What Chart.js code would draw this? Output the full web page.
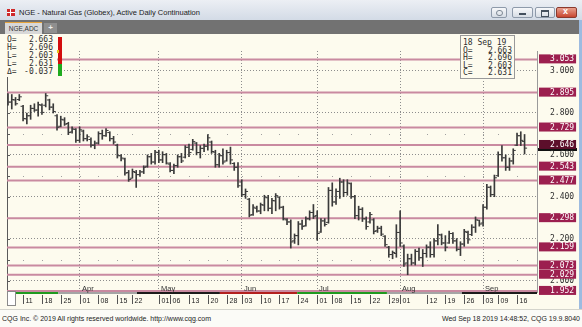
<!DOCTYPE html>
<html>
<head>
<meta charset="utf-8">
<title>NGE - Natural Gas (Globex), Active Daily Continuation</title>
<script src="https://cdn.jsdelivr.net/npm/chart.js@4.4.1/dist/chart.umd.min.js"></script>
<style>
html, body { margin: 0; padding: 0; }
body { position: relative; width: 582px; height: 327px; overflow: hidden; background: #f8f8f3; font-family: "Liberation Sans", Arial, sans-serif; }
#titlebar { position: absolute; left: 0; top: 0; width: 582px; height: 20px; background: linear-gradient(#eceff4, #d3dbe6); }
#titlebar .icon { position: absolute; left: 7px; top: 9px; width: 8px; height: 7px;
  background: linear-gradient(90deg, transparent 3px, #fff 3px, #fff 4px, transparent 4px),
              linear-gradient(transparent 3px, #fff 3px, #fff 4px, transparent 4px), #cf2a2a; }
#titlebar .ttl { position: absolute; left: 19px; top: 8px; font-size: 7.5px; line-height: 10px; color: #1b1b1b; white-space: nowrap; }
.btn { position: absolute; top: 7px; height: 9px; border: 1px solid #8e9aaa; border-radius: 2px; background: linear-gradient(#f7f8fa, #d7dde5); }
.btn.key { left: 491px; width: 14px; }
.btn.min { left: 512px; width: 19px; }
.btn.max { left: 535px; width: 18px; }
.btn.close { left: 556px; width: 19px; border-color: #8a3a2e; background: linear-gradient(#e9a08e, #c8462f); }
.btn.min::after { content: ""; position: absolute; left: 6px; top: 5px; width: 7px; height: 2px; background: #44505e; }
.btn.max::after { content: ""; position: absolute; left: 5px; top: 2px; width: 6px; height: 4px; border: 1px solid #44505e; border-top-width: 2px; }
.btn.close::after { content: "x"; position: absolute; left: 6px; top: -2px; font: bold 9px "Liberation Sans"; color: #fff; }
.btn.key::after { content: ""; position: absolute; left: 4px; top: 2px; width: 5px; height: 4px; border: 1px solid #7c8794; border-radius: 3px; }
#tabs { position: absolute; left: 0; top: 20px; width: 582px; height: 14px; background: #727272; }
#tabs .tab { position: absolute; left: 5px; top: 2px; width: 37px; height: 12px; background: #d8d8d8; border-top: 1px solid #e7a33a;
  font-size: 6.5px; line-height: 11px; color: #333; text-align: center; }
#tabs .plus { position: absolute; left: 44px; top: 3px; width: 13px; height: 10px; background: #8f8f8f; color: #eee; font: bold 8px "Liberation Sans"; line-height: 10px; text-align: center; }
#chart { position: absolute; left: 0; top: 34px; background: #fdfbee; }
.mono { font-family: "DejaVu Sans Mono", monospace; font-size: 8px; color: #2f2f2f; }
#ohlc { position: absolute; left: 7px; top: 36px; width: 46px; height: 41px; }
#ohlc div, #cursor div { display: flex; justify-content: space-between; white-space: pre; }
#ohlc div { height: 8.1px; line-height: 8.1px; }
#ohlcpad { position: absolute; left: 0; top: 35px; width: 57px; height: 42px; background: #fdfbee; }
#range { position: absolute; left: 58px; top: 37px; width: 4px; height: 39px; }
#range .red { position: absolute; left: 0; top: 0; width: 4px; height: 27px; background: #d30d0d; }
#range .green { position: absolute; left: 0; top: 27px; width: 4px; height: 12px; background: #1faa1f; }
#range .mark { position: absolute; left: -1px; top: 13px; width: 2px; height: 3px; background: #e6c21a; }
#cursor { position: absolute; left: 460px; top: 35px; width: 49px; height: 39px; padding: 3px 2px 0 2px; border: 1px solid #999; background: #fdfbee; }
#cursor div { height: 7.5px; line-height: 7.5px; }
#footer { position: absolute; left: 0; top: 309px; width: 582px; height: 18px; background: #fbfbf7; border-top: 1px solid #d4d4cc; font-size: 7px; color: #222; }
#footer .l { position: absolute; left: 2px; top: 5px; }
#footer .r { position: absolute; right: 2px; top: 5px; }
#frame { position: absolute; left: 579px; top: 20px; width: 3px; height: 289px; background: #9dbbe0; }
b { font-weight: normal; }
</style>
</head>
<body>
<div id="titlebar">
  <span class="icon"></span>
  <span class="ttl">NGE - Natural Gas (Globex), Active Daily Continuation</span>
  <div class="btn key"></div><div class="btn min"></div><div class="btn max"></div><div class="btn close"></div>
</div>
<div id="tabs"><div class="tab">NGE,ADC</div><div class="plus">+</div></div>
<canvas id="chart" width="582" height="275"></canvas>
<div id="ohlcpad"></div>
<div id="ohlc" class="mono"></div>
<div id="range"><div class="red"></div><div class="green"></div><div class="mark"></div></div>
<div id="cursor" class="mono"></div>
<div id="footer">
  <span class="l">CQG Inc. © 2019 All rights reserved worldwide. http://www.cqg.com</span>
  <span class="r">Wed Sep 18 2019 14:48:52, CQG 19.9.8040</span>
</div>
<div id="frame"></div>
<script>
// Daily bars, NGE active continuation, 5 Mar 2019 .. 18 Sep 2019 (138 sessions).
const opens = [
    2.870, 2.850, 2.860, 2.862, 2.830, 2.770, 2.785, 2.820, 2.812, 2.835,
    2.835, 2.860, 2.826, 2.785, 2.735, 2.765, 2.748, 2.708, 2.720, 2.668,
    2.712, 2.676, 2.672, 2.645, 2.655, 2.700, 2.690, 2.705, 2.676, 2.645,
    2.595, 2.580, 2.515, 2.488, 2.515, 2.505, 2.518, 2.545, 2.590, 2.565,
    2.610, 2.575, 2.600, 2.555, 2.525, 2.548, 2.590, 2.588, 2.635, 2.625,
    2.655, 2.610, 2.630, 2.640, 2.660, 2.612, 2.552, 2.595, 2.570, 2.610,
    2.558, 2.540, 2.470, 2.410, 2.388, 2.315, 2.345, 2.332, 2.360, 2.395,
    2.345, 2.380, 2.398, 2.350, 2.290, 2.280, 2.190, 2.215, 2.270, 2.262,
    2.295, 2.325, 2.310, 2.232, 2.285, 2.278, 2.430, 2.375, 2.425, 2.470,
    2.420, 2.462, 2.400, 2.310, 2.340, 2.295, 2.280, 2.290, 2.238, 2.250,
    2.212, 2.160, 2.125, 2.130, 2.230, 2.165, 2.085, 2.105, 2.085, 2.140,
    2.110, 2.130, 2.160, 2.125, 2.190, 2.218, 2.180, 2.180, 2.225, 2.190,
    2.150, 2.175, 2.230, 2.220, 2.255, 2.288, 2.275, 2.350, 2.445, 2.410,
    2.500, 2.600, 2.585, 2.540, 2.570, 2.645, 2.690, 2.663
];
const highs = [
    2.891, 2.886, 2.872, 2.886, 2.835, 2.798, 2.835, 2.842, 2.850, 2.842,
    2.891, 2.864, 2.842, 2.791, 2.783, 2.776, 2.754, 2.732, 2.724, 2.732,
    2.717, 2.695, 2.680, 2.665, 2.709, 2.717, 2.724, 2.709, 2.687, 2.650,
    2.600, 2.584, 2.525, 2.532, 2.525, 2.525, 2.547, 2.599, 2.606, 2.621,
    2.621, 2.614, 2.606, 2.562, 2.555, 2.599, 2.606, 2.643, 2.650, 2.673,
    2.658, 2.643, 2.650, 2.695, 2.665, 2.621, 2.606, 2.628, 2.621, 2.636,
    2.562, 2.562, 2.481, 2.437, 2.392, 2.363, 2.355, 2.370, 2.407, 2.407,
    2.392, 2.415, 2.400, 2.355, 2.296, 2.290, 2.223, 2.282, 2.289, 2.304,
    2.333, 2.363, 2.333, 2.296, 2.296, 2.444, 2.466, 2.437, 2.488, 2.481,
    2.481, 2.466, 2.407, 2.355, 2.348, 2.304, 2.326, 2.296, 2.260, 2.260,
    2.215, 2.164, 2.142, 2.267, 2.333, 2.171, 2.127, 2.127, 2.149, 2.156,
    2.149, 2.171, 2.186, 2.201, 2.267, 2.223, 2.215, 2.237, 2.230, 2.201,
    2.186, 2.245, 2.237, 2.267, 2.304, 2.289, 2.363, 2.459, 2.451, 2.503,
    2.614, 2.643, 2.599, 2.584, 2.628, 2.702, 2.709, 2.696
];
const lows = [
    2.835, 2.817, 2.835, 2.857, 2.761, 2.746, 2.768, 2.805, 2.783, 2.791,
    2.827, 2.813, 2.798, 2.717, 2.732, 2.739, 2.695, 2.702, 2.658, 2.658,
    2.665, 2.665, 2.636, 2.628, 2.650, 2.673, 2.687, 2.665, 2.650, 2.584,
    2.570, 2.503, 2.473, 2.488, 2.444, 2.496, 2.510, 2.540, 2.555, 2.555,
    2.562, 2.562, 2.555, 2.518, 2.510, 2.540, 2.562, 2.584, 2.591, 2.621,
    2.599, 2.584, 2.614, 2.621, 2.606, 2.540, 2.540, 2.555, 2.569, 2.555,
    2.525, 2.444, 2.400, 2.392, 2.304, 2.311, 2.326, 2.319, 2.333, 2.333,
    2.319, 2.333, 2.341, 2.289, 2.267, 2.156, 2.178, 2.171, 2.245, 2.260,
    2.289, 2.296, 2.193, 2.230, 2.260, 2.274, 2.355, 2.363, 2.392, 2.400,
    2.407, 2.392, 2.296, 2.289, 2.282, 2.245, 2.274, 2.223, 2.230, 2.215,
    2.164, 2.112, 2.105, 2.112, 2.164, 2.068, 2.029, 2.075, 2.075, 2.097,
    2.068, 2.112, 2.112, 2.112, 2.171, 2.171, 2.142, 2.178, 2.178, 2.142,
    2.120, 2.164, 2.178, 2.215, 2.230, 2.260, 2.260, 2.341, 2.400, 2.400,
    2.496, 2.569, 2.525, 2.525, 2.555, 2.643, 2.643, 2.603
];
const closes = [
    2.850, 2.862, 2.842, 2.875, 2.772, 2.785, 2.820, 2.812, 2.838, 2.801,
    2.880, 2.826, 2.805, 2.730, 2.768, 2.745, 2.705, 2.722, 2.668, 2.718,
    2.676, 2.685, 2.645, 2.655, 2.700, 2.690, 2.715, 2.676, 2.660, 2.595,
    2.584, 2.512, 2.482, 2.520, 2.505, 2.518, 2.540, 2.590, 2.565, 2.612,
    2.575, 2.600, 2.560, 2.525, 2.548, 2.590, 2.570, 2.635, 2.610, 2.662,
    2.610, 2.630, 2.640, 2.680, 2.615, 2.552, 2.595, 2.565, 2.610, 2.575,
    2.540, 2.452, 2.410, 2.425, 2.312, 2.350, 2.332, 2.362, 2.398, 2.345,
    2.382, 2.405, 2.350, 2.295, 2.280, 2.185, 2.215, 2.270, 2.258, 2.295,
    2.325, 2.305, 2.225, 2.285, 2.268, 2.430, 2.375, 2.425, 2.470, 2.420,
    2.465, 2.400, 2.310, 2.340, 2.295, 2.258, 2.315, 2.235, 2.250, 2.222,
    2.172, 2.125, 2.135, 2.230, 2.180, 2.080, 2.105, 2.085, 2.140, 2.110,
    2.130, 2.160, 2.125, 2.190, 2.220, 2.180, 2.160, 2.225, 2.190, 2.150,
    2.175, 2.235, 2.195, 2.255, 2.290, 2.270, 2.350, 2.445, 2.410, 2.490,
    2.600, 2.585, 2.540, 2.570, 2.620, 2.690, 2.668, 2.631
];

// Horizontal study lines, and the round prices of the axis.
const levelLines = [3.053, 2.895, 2.729, 2.646, 2.543, 2.477, 2.298, 2.159, 2.073, 2.029, 1.952];
const priceTicks = [3.0, 2.8, 2.6, 2.4, 2.2, 2.0];
const tenthRows = [3.0, 2.9, 2.8, 2.7, 2.6, 2.5, 2.4, 2.3, 2.2, 2.1, 2.0];
const minorRows = [2.9, 2.7, 2.5, 2.3, 2.1];

// Session index of each labelled week start, and of each month start.
const weekTicks = [
    [4, '11'], [9, '18'], [14, '25'], [19, '01'], [24, '08'], [29, '15'], [33, '22'],
    [40, '01'], [43, '06'], [48, '13'], [53, '20'], [58, '28'], [62, '03'], [67, '10'],
    [72, '17'], [77, '24'], [82, '01'], [86, '08'], [91, '15'], [96, '22'], [101, '29'],
    [104, '01'], [111, '12'], [116, '19'], [121, '26'], [126, '03'], [130, '09'], [135, '16']
];
const monthTicks = [[19, 'Apr'], [40, 'May'], [62, 'Jun'], [82, 'Jul'], [104, 'Aug'], [126, 'Sep']];

// Contract periods marked under the time axis (session index ranges).
const contractSpans = [[1.9, 13.3], [13.3, 34.2], [34.2, 56.2], [56.2, 76.7], [76.7, 100.5], [100.5, 120.4], [120.4, 141]];
const contractColors = ['#1f9a1f', '#a5a5a5', '#1b1b1b', '#b3201e', '#1f9a1f', '#a5a5a5', '#1b1b1b'];

const X_MIN = -0.265, X_MAX = 140.3;
const Y_MIN = 1.9469, Y_MAX = 3.0929;
const BAR = '#3a3a3a';

const last = closes.length - 1;
const idx = closes.map((c, i) => i);
const fmt = v => v.toFixed(3);

// Info panels.
const infoRows = [['O=', opens[last]], ['H=', highs[last]], ['L=', lows[last]], ['L=', closes[last]], ['Δ=', closes[last] - closes[last - 1]]];
document.getElementById('ohlc').innerHTML = infoRows.map(([k, v]) => `<div><span>${k}</span><b>${fmt(v)}</b></div>`).join('');
const cursorRows = [['O=', opens[last]], ['H=', highs[last]], ['L=', lows[last]], ['C=', closes[last]]];
document.getElementById('cursor').innerHTML = '<div><span>18 Sep 19</span></div>' +
    cursorRows.map(([k, v]) => `<div><span>${k}</span><b>${fmt(v)}</b></div>`).join('');

// Decorations of the CQG chart window: minor dots, left border, time axis strip.
const cqgDecor = {
    id: 'cqgDecor',
    beforeDraw(chart) {
        const {ctx, scales: {y}} = chart;
        // Last trade marker on the price axis, mostly under the 2.646 box.
        ctx.save();
        ctx.fillStyle = '#111';
        ctx.fillRect(538, Math.round(y.getPixelForValue(closes[last])), 39, 3);
        ctx.restore();
    },
    beforeDatasetsDraw(chart) {
        const {ctx, chartArea: a, scales: {x, y}} = chart;
        ctx.save();
        ctx.fillStyle = '#a0a0a0';
        for (const [i] of weekTicks) {
            const px = Math.round(x.getPixelForValue(i));
            for (const p of minorRows) {
                ctx.fillRect(px, Math.round(y.getPixelForValue(p)), 1, 1);
            }
        }
        ctx.fillStyle = '#5a5a5a';
        ctx.fillRect(a.left, a.top, 1, a.bottom - a.top);
        for (const p of tenthRows) {
            ctx.fillRect(a.left, Math.round(y.getPixelForValue(p)), 3, 1);
        }
        ctx.restore();
    },
    afterDraw(chart) {
        const {ctx, chartArea: a, scales: {x}} = chart;
        ctx.save();
        contractSpans.forEach(([s, e], k) => {
            const x0 = x.getPixelForValue(s);
            const x1 = Math.min(x.getPixelForValue(e), a.right);
            ctx.fillStyle = contractColors[k];
            ctx.fillRect(x0, a.bottom, x1 - x0, 2);
        });
        ctx.fillStyle = '#fff';
        ctx.strokeStyle = '#8a8a8a';
        ctx.fillRect(a.left, a.bottom - 1, 8, 14);
        ctx.strokeRect(a.left + 0.5, a.bottom - 0.5, 8, 14);

        ctx.font = '7px "Liberation Sans"';
        for (const [i, label] of weekTicks) {
            const px = Math.round(x.getPixelForValue(i)) + 0.5;
            ctx.strokeStyle = '#555';
            ctx.beginPath();
            ctx.moveTo(px, a.bottom + 3);
            ctx.lineTo(px, a.bottom + 12);
            ctx.stroke();
            ctx.fillStyle = '#222';
            ctx.fillText(label, px + 2, a.bottom + 11);
        }
        ctx.font = '7.5px "Liberation Sans"';
        ctx.fillStyle = '#333';
        for (const [i, label] of monthTicks) {
            ctx.fillText(label, Math.round(x.getPixelForValue(i)) + 2, a.bottom - 1);
        }
        ctx.restore();
    }
};

const isLevel = v => levelLines.includes(v);

new Chart(document.getElementById('chart'), {
    type: 'bar',
    data: {
        datasets: [
            {
                type: 'bar',
                data: idx.map(i => ({x: i, y: [lows[i], highs[i]]})),
                backgroundColor: BAR,
                borderWidth: 0,
                barThickness: 1,
                order: 1,
            },
            {
                type: 'line',
                data: idx.map(i => ({x: i - 0.38, y: opens[i]})),
                showLine: false,
                pointStyle: 'line',
                pointRadius: 1.1,
                pointBorderWidth: 1,
                pointBorderColor: BAR,
                pointHoverRadius: 0,
                order: 0,
            },
            {
                type: 'line',
                data: idx.map(i => ({x: i + 0.38, y: closes[i]})),
                showLine: false,
                pointStyle: 'line',
                pointRadius: 1.1,
                pointBorderWidth: 1,
                pointBorderColor: BAR,
                pointHoverRadius: 0,
                order: 0,
            },
            ...levelLines.map(v => ({
                type: 'line',
                data: [{x: X_MIN, y: v}, {x: X_MAX, y: v}],
                borderColor: '#c98aa0',
                borderWidth: 2,
                pointRadius: 0,
                order: 5,
            })),
        ]
    },
    options: {
        responsive: false,
        animation: false,
        events: [],
        layout: {padding: {left: 7, right: 2, top: 1, bottom: 15}},
        plugins: {
            legend: {display: false},
            tooltip: {enabled: false},
        },
        scales: {
            x: {
                type: 'linear',
                min: X_MIN,
                max: X_MAX,
                offset: false,
                afterBuildTicks: s => { s.ticks = monthTicks.map(m => ({value: m[0]})); },
                afterFit: s => { s.height = 0; },
                ticks: {display: false},
                grid: {offset: false, color: '#8d8d8d', drawTicks: false},
                border: {display: false, dash: [1, 2]},
            },
            y: {
                type: 'linear',
                position: 'right',
                min: Y_MIN,
                max: Y_MAX,
                afterBuildTicks: s => { s.ticks = priceTicks.concat(levelLines).map(v => ({value: v})); },
                afterFit: s => { s.width = 43; },
                ticks: {
                    autoSkip: false,
                    padding: 13,
                    crossAlign: 'near',
                    callback: v => Number(v).toFixed(3),
                    font: {family: 'DejaVu Sans Mono', size: 8, lineHeight: 1},
                    color: c => isLevel(c.tick.value) ? '#ffffff' : '#2f2f2f',
                    showLabelBackdrop: c => isLevel(c.tick.value),
                    backdropColor: c => c.tick.value === 2.646 ? '#5c0f2b' : '#9c1f4f',
                    backdropPadding: {left: 11, right: 2, top: 1, bottom: 0},
                },
                grid: {
                    color: c => (c.tick && isLevel(c.tick.value)) ? 'rgba(0,0,0,0)' : '#8d8d8d',
                    drawTicks: false,
                },
                border: {display: true, color: '#9a9a9a', dash: [1, 2]},
            }
        }
    },
    plugins: [cqgDecor],
});
</script>
</body>
</html>
